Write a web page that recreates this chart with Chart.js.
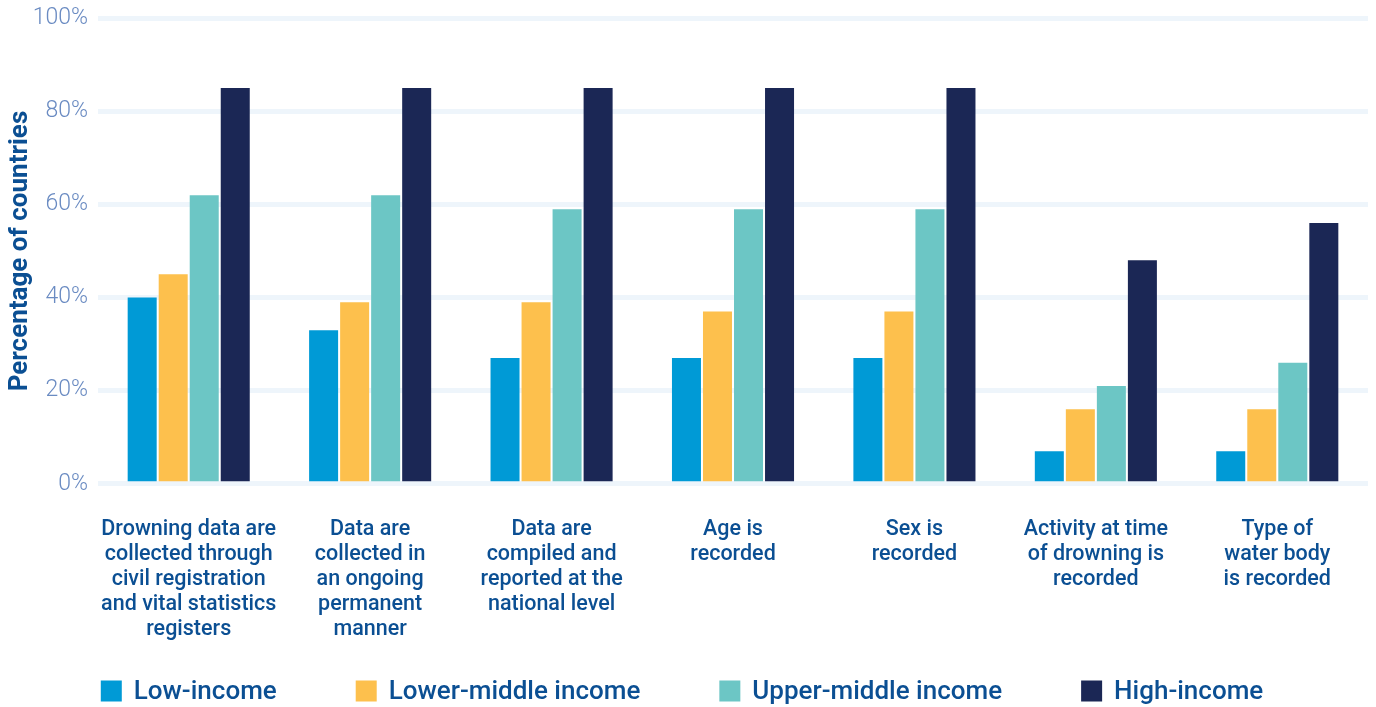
<!DOCTYPE html>
<html>
<head>
<meta charset="utf-8">
<script src="https://cdn.jsdelivr.net/npm/chart.js@4/dist/chart.umd.min.js"></script>
<style>
  html, body { margin: 0; padding: 0; background: #fff; }
  #wrap { width: 1376px; height: 707px; }
</style>
</head>
<body>
<div id="wrap"><canvas id="drowningChart" width="1376" height="707"></canvas></div>
<script>
const categories = [
  ["Drowning data are", "collected through", "civil registration", "and vital statistics", "registers"],
  ["Data are", "collected in", "an ongoing", "permanent", "manner"],
  ["Data are", "compiled and", "reported at the", "national level"],
  ["Age is", "recorded"],
  ["Sex is", "recorded"],
  ["Activity at time", "of drowning is", "recorded"],
  ["Type of", "water body", "is recorded"]
];

const lowIncome = [40, 33, 27, 27, 27, 7, 7];
const lowerMiddle = [45, 39, 39, 37, 37, 16, 16];
const upperMiddle = [62, 62, 59, 59, 59, 21, 26];
const highIncome = [85, 85, 85, 85, 85, 48, 56];

const seriesNames = ["Low-income", "Lower-middle income", "Upper-middle income", "High-income"];
const seriesColors = ["#009ad6", "#fdc04d", "#6cc6c5", "#1b2755"];

const labelBlue = "#0b4f93";
const tickBlue = "#6a8bc2";

// legend drawn by hand so the spacing can match the original
const bottomLegend = {
  id: "bottomLegend",
  afterDraw(chart) {
    const ctx = chart.ctx;
    const gap = 79, box = 21, textGap = 12;
    ctx.save();
    ctx.font = "500 26px Roboto";
    ctx.textBaseline = "middle";
    const items = chart.data.datasets.map(ds => ({
      text: ds.label,
      color: ds.backgroundColor,
      w: box + textGap + ctx.measureText(ds.label).width
    }));
    const total = items.reduce((s, it) => s + it.w, 0) + gap * (items.length - 1);
    let x = (chart.width - total) / 2 - 6;
    const y = 691;
    items.forEach(it => {
      ctx.fillStyle = it.color;
      ctx.fillRect(x, y - box / 2, box, box);
      ctx.fillStyle = labelBlue;
      ctx.fillText(it.text, x + box + textGap, y + 1);
      x += it.w + gap;
    });
    ctx.restore();
  }
};

const ctx = document.getElementById("drowningChart").getContext("2d");
new Chart(ctx, {
  type: "bar",
  data: {
    labels: categories,
    datasets: [
      { label: seriesNames[0], data: lowIncome, backgroundColor: seriesColors[0] },
      { label: seriesNames[1], data: lowerMiddle, backgroundColor: seriesColors[1] },
      { label: seriesNames[2], data: upperMiddle, backgroundColor: seriesColors[2] },
      { label: seriesNames[3], data: highIncome, backgroundColor: seriesColors[3] }
    ]
  },
  options: {
    responsive: false,
    animation: false,
    categoryPercentage: 0.684,
    barPercentage: 0.935,
    layout: {
      padding: { left: 5, right: 8, top: 0, bottom: 32 }
    },
    plugins: {
      legend: { display: false },
      tooltip: { enabled: false }
    },
    scales: {
      x: {
        grid: { display: false, drawTicks: false },
        border: { display: false },
        ticks: {
          color: labelBlue,
          padding: 33,
          maxRotation: 0,
          autoSkip: false,
          font: { family: "Roboto", size: 21.5, weight: "500", lineHeight: 1.165 }
        }
      },
      y: {
        min: 0,
        max: 100,
        border: { display: false },
        grid: { color: "#eef5fb", lineWidth: 5, drawTicks: false },
        afterFit: scale => { scale.width = 93; },
        ticks: {
          stepSize: 20,
          padding: 10,
          color: tickBlue,
          font: { family: "Roboto", size: 23, weight: "300", lineHeight: 0.72 },
          callback: v => v + "%"
        },
        title: {
          display: true,
          text: "Percentage of countries",
          color: labelBlue,
          padding: { top: 0, bottom: 0 },
          font: { family: "Roboto", size: 26, weight: "bold" }
        }
      }
    }
  },
  plugins: [bottomLegend]
});
</script>
</body>
</html>
